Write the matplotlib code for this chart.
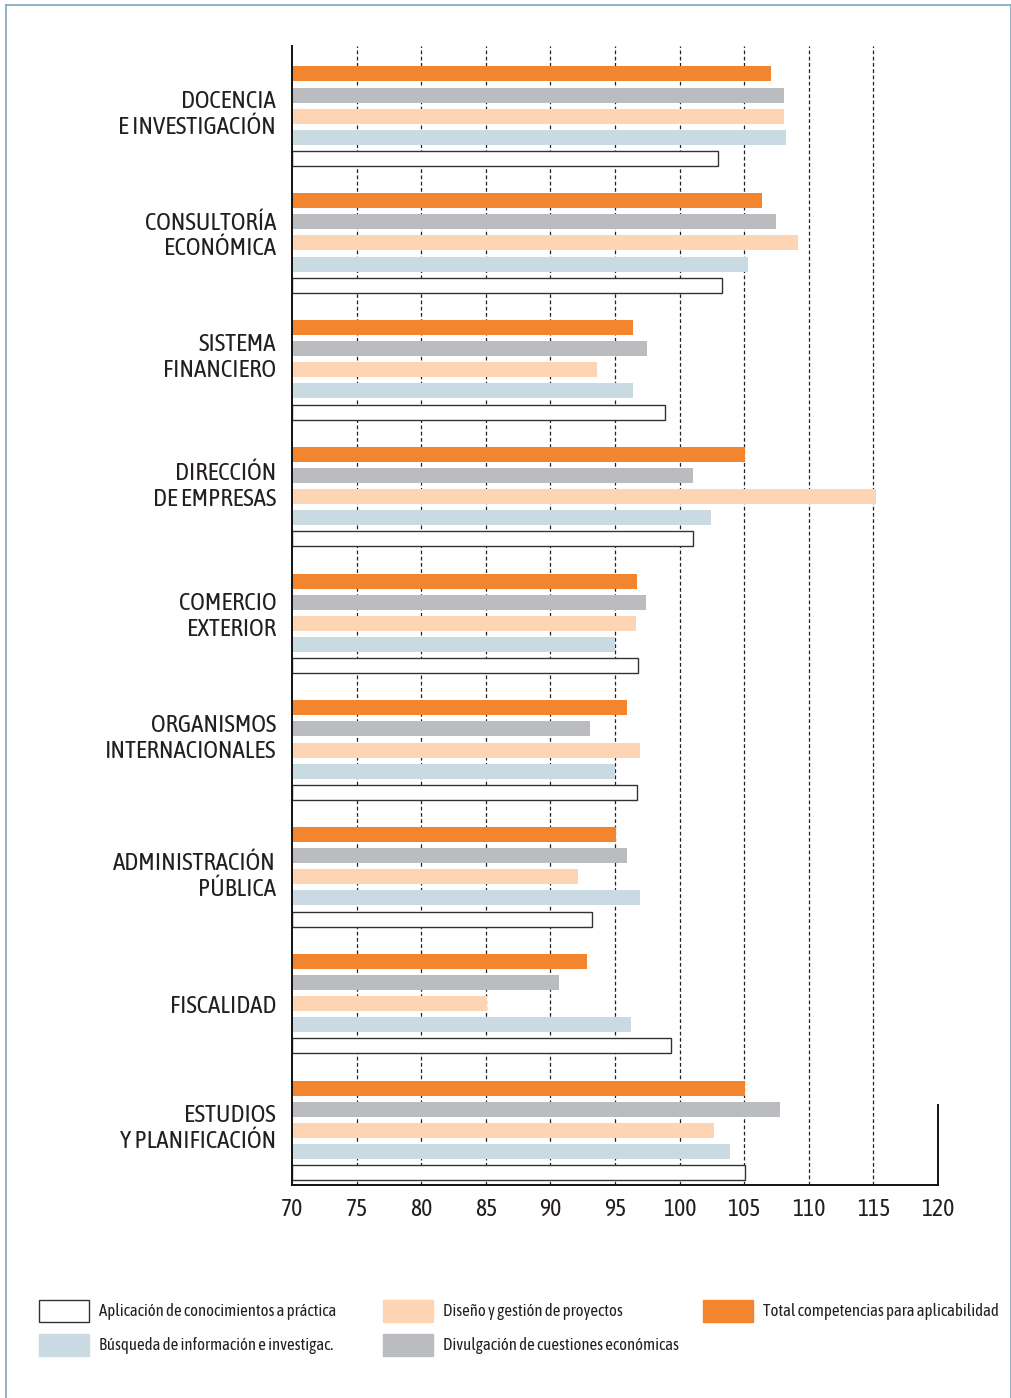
import matplotlib
matplotlib.use("Agg")
import matplotlib.pyplot as plt
from matplotlib import font_manager
from matplotlib.patches import Patch
from matplotlib.lines import Line2D

names = set(f.name for f in font_manager.fontManager.ttflist)
fam = "DejaVu Sans"
for cand in ["Asap Condensed", "Archivo Narrow", "Barlow Semi Condensed", "Liberation Sans Narrow"]:
    if cand in names:
        fam = cand
        break
plt.rcParams["font.family"] = [fam, "DejaVu Sans"]
txt = "#231f20"

categories = ["DOCENCIA\nE INVESTIGACIÓN", "CONSULTORÍA\nECONÓMICA", "SISTEMA\nFINANCIERO",
              "DIRECCIÓN\nDE EMPRESAS", "COMERCIO\nEXTERIOR", "ORGANISMOS\nINTERNACIONALES",
              "ADMINISTRACIÓN\nPÚBLICA", "FISCALIDAD", "ESTUDIOS\nY PLANIFICACIÓN"]
# series (top to bottom inside each group)
total =       [107.1, 106.4, 96.4, 105.1, 96.7, 95.9, 95.1, 92.8, 105.1]
divulgacion = [108.1, 107.5, 97.5, 101.0, 97.4, 93.1, 95.9, 90.7, 107.8]
diseno =      [108.1, 109.2, 93.6, 115.2, 96.6, 96.9, 92.1, 85.1, 102.7]
busqueda =    [108.2, 105.3, 96.4, 102.4, 95.0, 95.0, 96.9, 96.2, 103.9]
aplicacion =  [103.0, 103.3, 98.9, 101.0, 96.8, 96.7, 93.2, 99.3, 105.1]
labels = ["Total competencias para aplicabilidad", "Divulgación de cuestiones económicas",
          "Diseño y gestión de proyectos", "Búsqueda de información e investigac.",
          "Aplicación de conocimientos a práctica"]
series = [total, divulgacion, diseno, busqueda, aplicacion]
colors = ["#f3852f", "#bbbcc0", "#fdd5b5", "#c9dae3", "white"]
edges = ["none", "none", "none", "none", "#333333"]
xmin, xmax = 70, 120
ticks = [70, 75, 80, 85, 90, 95, 100, 105, 110, 115, 120]
# small vertical nudges of the category labels (in bar-step units)
label_nudge = [-0.28, -0.52, -0.78, -0.64, -0.52, -0.73, -0.19, 0.02, -0.28]

fig = plt.figure(figsize=(10.12, 13.98), dpi=100)
ax = fig.add_axes([292 / 1012, 1 - 1185 / 1398, 646 / 1012, (1185 - 46) / 1398])

for t in ticks[1:-1]:
    ax.axvline(t, color="#222222", lw=0.9, ls=(0, (3, 2)), zorder=0)

for k, (vals, c, e) in enumerate(zip(series, colors, edges)):
    ys = [g * 6 + k for g in range(len(categories))]
    ax.barh(ys, [v - xmin for v in vals], left=xmin, height=0.71, color=c,
            edgecolor=e, linewidth=1.0, zorder=2)

ax.set_xlim(xmin, xmax)
ax.set_ylim(52.59, -1.325)
ax.set_xticks(ticks)
ax.set_xticklabels([str(t) for t in ticks], fontsize=17, color=txt)
ax.tick_params(axis="x", length=0, pad=9.5)
ax.set_yticks([g * 6 + 2 + label_nudge[g] for g in range(len(categories))])
ax.set_yticklabels(categories, fontsize=18, color=txt, linespacing=1.16)
ax.tick_params(axis="y", length=0, pad=11.5)
for s in ["top", "right"]:
    ax.spines[s].set_visible(False)
for s in ["left", "bottom"]:
    ax.spines[s].set_linewidth(1.4)
    ax.spines[s].set_color("#111111")
ax.plot([xmax, xmax], [48.8, 52.59], color="#111111", lw=1.4, clip_on=False, zorder=3)

# legend: three columns placed separately
cols = [[4, 3], [2, 1], [0]]
xpos = [39, 383, 703]
for col, xp in zip(cols, xpos):
    hs = [Patch(facecolor=colors[i], edgecolor=edges[i] if edges[i] != "none" else colors[i],
                linewidth=1.0) for i in col]
    fig.legend(hs, [labels[i] for i in col], loc="upper left",
               bbox_to_anchor=(xp / 1012, 1 - 1300 / 1398), frameon=False, fontsize=12.1,
               handlelength=2.98, handleheight=1.637, handletextpad=0.6, labelspacing=0.71,
               borderpad=0, borderaxespad=0, labelcolor=txt)

# outer frame
fc = "#7fa8c0"
fig.add_artist(Line2D([6 / 1012, 6 / 1012], [0, 1 - 5 / 1398], color=fc, lw=1.2))
fig.add_artist(Line2D([6 / 1012, 1011 / 1012], [1 - 5 / 1398, 1 - 5 / 1398], color=fc, lw=1.2))
fig.add_artist(Line2D([1011 / 1012, 1011 / 1012], [0, 1 - 5 / 1398], color=fc, lw=1.2))

fig.savefig("out.png", dpi=100)
